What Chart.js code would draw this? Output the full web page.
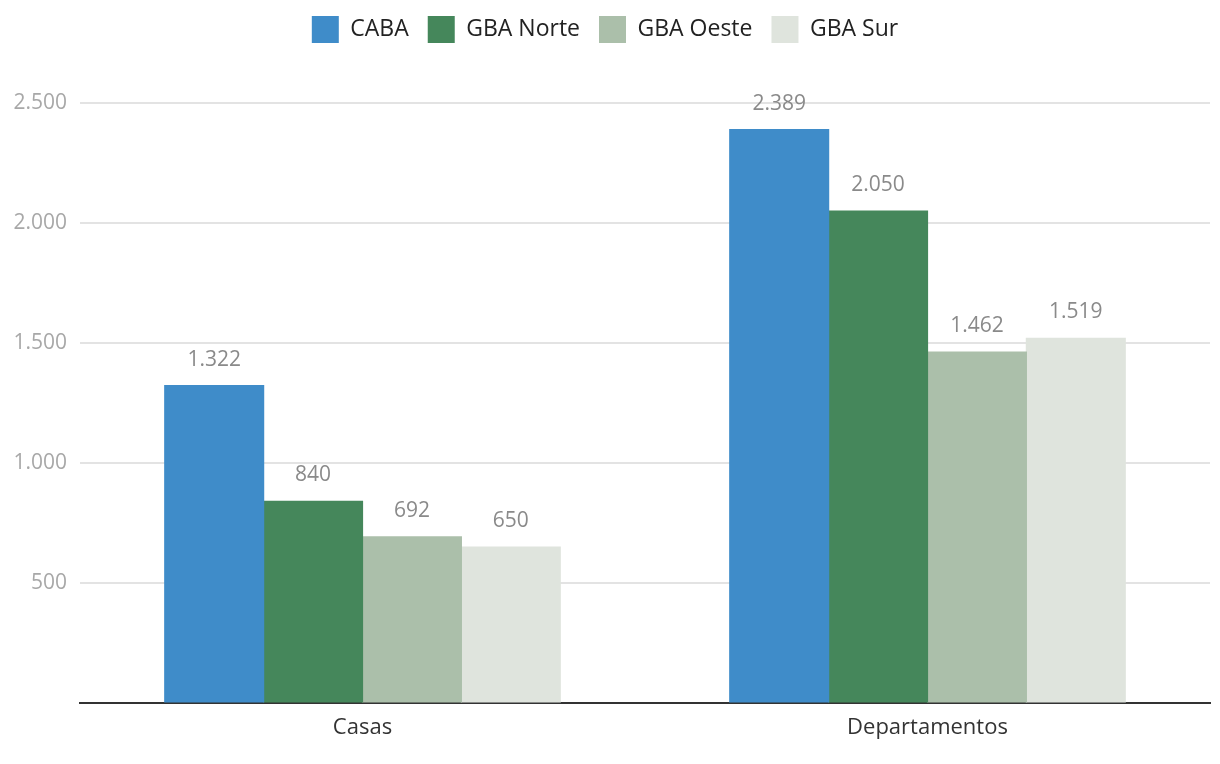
<!DOCTYPE html>
<html>
<head>
<meta charset="utf-8">
<script src="https://cdn.jsdelivr.net/npm/chart.js@4/dist/chart.umd.min.js"></script>
<style>
  html,body{margin:0;padding:0;background:#fff;}
  #wrap{width:1220px;height:764px;}
</style>
</head>
<body>
<div id="wrap"><canvas id="chart"></canvas></div>
<script>
const categorias = ['Casas', 'Departamentos'];
const series = ['CABA', 'GBA Norte', 'GBA Oeste', 'GBA Sur'];
const caba = [1322, 2389];
const gbaNorte = [840, 2050];
const gbaOeste = [692, 1462];
const gbaSur = [650, 1519];
const colores = ['#3f8cc9', '#45875b', '#abbfaa', '#dfe4dd'];

const FONT = '"Open Sans", Roboto, sans-serif';

function fmt(n){
  return String(n).replace(/\B(?=(\d{3})+(?!\d))/g, '.');
}

// etiquetas de valor sobre cada barra
const valueLabels = {
  id: 'valueLabels',
  afterDatasetsDraw(chart){
    const ctx = chart.ctx;
    ctx.save();
    ctx.font = '21px ' + FONT;
    ctx.fillStyle = '#8a8a8a';
    ctx.textAlign = 'center';
    ctx.textBaseline = 'middle';
    chart.data.datasets.forEach((ds, i)=>{
      chart.getDatasetMeta(i).data.forEach((bar, j)=>{
        ctx.fillText(fmt(ds.data[j]), bar.x, bar.y - 26);
      });
    });
    ctx.restore();
  }
};

const valores = [caba, gbaNorte, gbaOeste, gbaSur];
const datasets = series.map((s, i)=>({
  label: s,
  data: valores[i],
  backgroundColor: colores[i],
  borderWidth: 0,
  inflateAmount: 0.6,
  categoryPercentage: 0.7,
  barPercentage: 1.0
}));

new Chart(document.getElementById('chart'), {
  type: 'bar',
  data: { labels: categorias, datasets },
  plugins: [valueLabels],
  options: {
    responsive: true,
    maintainAspectRatio: false,
    animation: false,
    layout: { padding: { left: 0, right: 10, top: -3, bottom: 0 } },
    plugins: {
      tooltip: { enabled: false },
      legend: {
        position: 'top',
        labels: {
          boxWidth: 27,
          boxHeight: 27,
          padding: 19,
          color: '#222',
          font: { family: FONT, size: 23 }
        }
      }
    },
    scales: {
      x: {
        grid: { display: false, drawTicks: false },
        border: { display: true, color: '#333', width: 2 },
        ticks: { color: '#333', padding: 12, font: { family: FONT, size: 22 } },
        afterFit(scale){ scale.height = 61; }
      },
      // eje vacío arriba, sólo reserva espacio bajo la leyenda
      xTop: {
        type: 'category',
        position: 'top',
        grid: { display: false, drawTicks: false },
        border: { display: false },
        ticks: { display: false },
        afterFit(scale){
          const lg = scale.chart.legend;
          scale.height = Math.max(0, 106 - (lg ? lg.height : 0));
        }
      },
      y: {
        min: 0,
        max: 2500,
        afterFit(scale){ scale.width = 80; },
        grid: { color: '#e3e3e3', lineWidth: 2, drawTicks: false },
        border: { display: false },
        ticks: {
          stepSize: 500,
          padding: 13,
          color: '#a8a8a8',
          font: { family: FONT, size: 21 },
          callback: v => v === 0 ? '' : fmt(v)
        }
      }
    }
  }
});
</script>
</body>
</html>
